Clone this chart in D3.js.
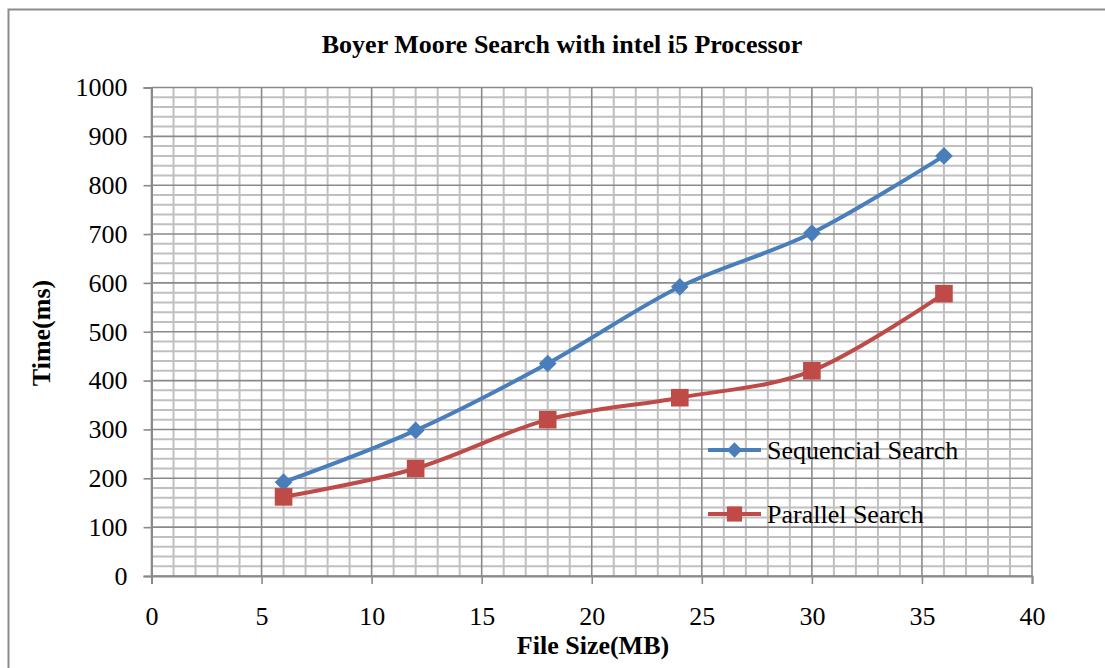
<!DOCTYPE html>
<html>
<head>
<meta charset="utf-8">
<script src="https://cdn.jsdelivr.net/npm/d3@7"></script>
<style>
  html, body { margin: 0; padding: 0; background: #fff; }
  svg { display: block; }
  text { font-family: "Liberation Serif", "Times New Roman", serif; fill: #000; }
</style>
</head>
<body>
<svg id="chart" width="1105" height="668"></svg>
<script>
// File sizes (MB) and timings (ms)
const fileSizes = [6, 12, 18, 24, 30, 36];
const sequentialTimes = [192, 298, 435, 592, 702, 860];
const parallelTimes = [162, 220, 320, 365, 420, 578];
const seriesNames = ["Sequencial Search", "Parallel Search"];
const xTicks = [0, 5, 10, 15, 20, 25, 30, 35, 40];
const yTicks = [0, 100, 200, 300, 400, 500, 600, 700, 800, 900, 1000];

const svg = d3.select("#chart");
const W = 1105, H = 668;
const plot = { left: 151.5, right: 1032, top: 87.5, bottom: 576 };
const FONT = "'Liberation Serif', 'Times New Roman', serif";

// outer chart frame
svg.append("rect")
  .attr("x", 8.5).attr("y", 9.5)
  .attr("width", W + 10).attr("height", H + 10)
  .attr("fill", "#fff").attr("stroke", "#8c8c8c").attr("stroke-width", 2);

const x = d3.scaleLinear().domain([0, 40]).range([plot.left, plot.right]);
const y = d3.scaleLinear().domain([0, 1000]).range([plot.bottom, plot.top]);

const g = svg.append("g");

// minor grid
const minorX = d3.range(0, 41, 1).filter(v => v % 5 !== 0);
const minorY = d3.range(0, 1001, 20).filter(v => v % 100 !== 0);
g.selectAll("line.mx").data(minorX).join("line")
  .attr("x1", d => x(d)).attr("x2", d => x(d))
  .attr("y1", plot.top).attr("y2", plot.bottom)
  .attr("stroke", "#c0c0c0").attr("stroke-width", 2);
g.selectAll("line.my").data(minorY).join("line")
  .attr("x1", plot.left).attr("x2", plot.right)
  .attr("y1", d => y(d)).attr("y2", d => y(d))
  .attr("stroke", "#c0c0c0").attr("stroke-width", 2);

// major grid
g.selectAll("line.Mx").data(xTicks).join("line")
  .attr("x1", d => x(d)).attr("x2", d => x(d))
  .attr("y1", plot.top).attr("y2", plot.bottom)
  .attr("stroke", "#8a8a8a").attr("stroke-width", 1.6);
g.selectAll("line.My").data(yTicks).join("line")
  .attr("x1", plot.left).attr("x2", plot.right)
  .attr("y1", d => y(d)).attr("y2", d => y(d))
  .attr("stroke", "#8a8a8a").attr("stroke-width", 1.6);

// axes
const xAxis = d3.axisBottom(x).tickValues(xTicks).tickSize(8).tickPadding(23)
  .tickFormat(d3.format("d"));
const yAxis = d3.axisLeft(y).tickValues(yTicks).tickSize(8).tickPadding(16)
  .tickFormat(d3.format("d"));

const gx = svg.append("g").attr("transform", `translate(0,${plot.bottom})`).call(xAxis);
const gy = svg.append("g").attr("transform", `translate(${plot.left},0)`).call(yAxis);
[gx, gy].forEach(a => {
  a.select(".domain").attr("stroke", "#8a8a8a").attr("stroke-width", 2);
  a.selectAll(".tick line").attr("stroke", "#8a8a8a").attr("stroke-width", 1.6);
  a.selectAll(".tick text")
    .attr("font-family", FONT)
    .attr("font-size", 26).attr("fill", "#000");
});

// series lines
const line = d3.line()
  .x(d => x(d[0])).y(d => y(d[1]))
  .curve(d3.curveCatmullRom.alpha(0));

const seqData = fileSizes.map((f, i) => [f, sequentialTimes[i]]);
const parData = fileSizes.map((f, i) => [f, parallelTimes[i]]);
const blue = "#4a7ebb", red = "#be4b48";

svg.append("path").datum(seqData).attr("d", line)
  .attr("fill", "none").attr("stroke", blue).attr("stroke-width", 4);
svg.append("path").datum(parData).attr("d", line)
  .attr("fill", "none").attr("stroke", red).attr("stroke-width", 4);

const diamond = d3.symbol().type(d3.symbolDiamond2).size(200);
const square = d3.symbol().type(d3.symbolSquare).size(310);
const diamondSmall = d3.symbol().type(d3.symbolDiamond2).size(150);
const squareSmall = d3.symbol().type(d3.symbolSquare).size(230);

svg.selectAll("path.sm").data(seqData).join("path")
  .attr("d", diamond)
  .attr("transform", d => `translate(${x(d[0])},${y(d[1])})`)
  .attr("fill", blue);
svg.selectAll("path.pm").data(parData).join("path")
  .attr("d", square)
  .attr("transform", d => `translate(${x(d[0])},${y(d[1])})`)
  .attr("fill", red);

// legend
const legend = [
  { name: seriesNames[0], color: blue, sym: diamondSmall, y: 450 },
  { name: seriesNames[1], color: red, sym: squareSmall, y: 514 }
];
legend.forEach(l => {
  svg.append("line").attr("x1", 708).attr("x2", 761)
    .attr("y1", l.y).attr("y2", l.y)
    .attr("stroke", l.color).attr("stroke-width", 4);
  svg.append("path").attr("d", l.sym)
    .attr("transform", `translate(734.5,${l.y})`).attr("fill", l.color);
  svg.append("text").attr("x", 767).attr("y", l.y + 8.5)
    .attr("font-size", 26).text(l.name);
});

// titles
svg.append("text").attr("x", 562).attr("y", 53)
  .attr("text-anchor", "middle").attr("font-size", 26).attr("font-weight", "bold")
  .text("Boyer Moore Search with intel i5 Processor");
svg.append("text").attr("x", 593).attr("y", 654)
  .attr("text-anchor", "middle").attr("font-size", 26).attr("font-weight", "bold")
  .text("File Size(MB)");
svg.append("text")
  .attr("transform", "translate(50,333) rotate(-90)")
  .attr("text-anchor", "middle").attr("font-size", 26).attr("font-weight", "bold")
  .text("Time(ms)");
</script>
</body>
</html>
